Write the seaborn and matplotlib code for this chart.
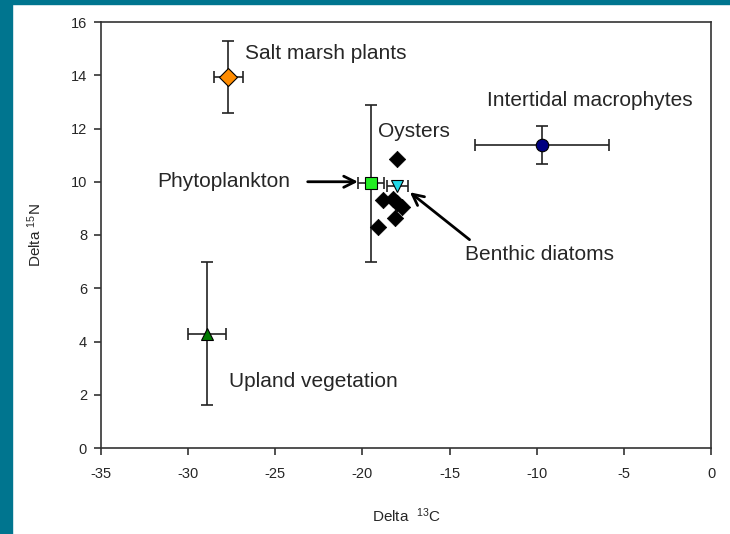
import matplotlib
matplotlib.use('Agg')
import matplotlib.pyplot as plt
from matplotlib.patches import Rectangle
import seaborn as sns
import pandas as pd

# ── Data ─────────────────────────────────────────────────────
oyster_c13 = [-18.04, -18.80, -18.27, -17.75, -18.04, -18.13, -19.09]
oyster_n15 = [10.85, 9.30, 9.35, 9.05, 9.20, 8.65, 8.30]

source_names = ["Salt marsh plants", "Upland vegetation", "Intertidal macrophytes",
                "Phytoplankton", "Benthic diatoms"]
source_c13   = [-27.70, -28.90, -9.70, -19.50, -18.00]
source_n15   = [13.95, 4.30, 11.38, 9.95, 9.85]
source_c13_err = [0.83, 1.10, 3.86, 0.75, 0.60]
source_n15_err = [1.35, 2.68, 0.71, 2.95, 0.0]
source_marker  = ['D', '^', 'o', 's', 'v']
source_color   = ['#FF8C00', '#007A00', '#000080', '#22EE22', '#22D8E8']

x_ticks = [-35, -30, -25, -20, -15, -10, -5, 0]
y_ticks = [0, 2, 4, 6, 8, 10, 12, 14, 16]

# ── Style ────────────────────────────────────────────────────
sns.set_style('white')
plt.rcParams['font.family'] = ['Liberation Sans', 'DejaVu Sans']
plt.rcParams['mathtext.default'] = 'regular'
plt.rcParams['axes.unicode_minus'] = False

fig = plt.figure(figsize=(7.3, 5.34), dpi=100)
fig.patch.set_facecolor('white')
teal = '#00758F'
fig.patches.append(Rectangle((0, 0), 12 / 730, 1, transform=fig.transFigure,
                             color=teal, zorder=0))
fig.patches.append(Rectangle((0, 1 - 4 / 534), 1, 4 / 534, transform=fig.transFigure,
                             color=teal, zorder=0))

ax = fig.add_axes([101 / 730, 1 - 448 / 534, 610 / 730, 426 / 534])

# ── Sources with error bars ──────────────────────────────────
for i, name in enumerate(source_names):
    ax.errorbar(source_c13[i], source_n15[i],
                xerr=source_c13_err[i], yerr=source_n15_err[i] or None,
                fmt='none', ecolor='#222222', elinewidth=1.2,
                capsize=4, capthick=1.2, zorder=2)

# ── Oysters ──────────────────────────────────────────────────
oysters = pd.DataFrame({'c13': oyster_c13, 'n15': oyster_n15})
sns.scatterplot(data=oysters, x='c13', y='n15', marker='D', s=70,
                color='black', edgecolor='black', linewidth=0.5, ax=ax, zorder=3)

src = pd.DataFrame({'name': source_names, 'c13': source_c13, 'n15': source_n15})
for i, row in src.iterrows():
    ax.plot(row['c13'], row['n15'], marker=source_marker[i], markersize=9,
            markerfacecolor=source_color[i], markeredgecolor='black',
            markeredgewidth=0.8, linestyle='none', zorder=4)

# ── Labels & arrows ──────────────────────────────────────────
fs = 15
ax.text(-26.74, 14.81, "Salt marsh plants", fontsize=fs, va='center')
ax.text(-12.85, 13.04, "Intertidal macrophytes", fontsize=fs, va='center')
ax.text(-19.11, 11.88, "Oysters", fontsize=fs, va='center')
ax.text(-31.79, 10.0, "Phytoplankton", fontsize=fs, va='center')
ax.text(-14.12, 7.26, "Benthic diatoms", fontsize=fs, va='center')
ax.text(-27.66, 2.48, "Upland vegetation", fontsize=fs, va='center')

arrow = dict(arrowstyle='->', color='black', lw=2, mutation_scale=20)
ax.annotate("", xy=(-20.1, 10.0), xytext=(-23.3, 10.0), arrowprops=arrow)
ax.annotate("", xy=(-17.4, 9.67), xytext=(-13.73, 7.76), arrowprops=arrow)

# ── Axes ─────────────────────────────────────────────────────
ax.set_xlim(-35, 0)
ax.set_ylim(0, 16)
ax.set_xticks(x_ticks)
ax.set_yticks(y_ticks)
ax.tick_params(axis='both', direction='out', length=5, width=1.2,
               color='#333333', labelsize=10.5, bottom=True, left=True)
ax.tick_params(axis='x', pad=9)
ax.tick_params(axis='y', pad=5)
for side in ['top', 'right', 'bottom', 'left']:
    ax.spines[side].set_visible(True)
    ax.spines[side].set_color('#333333')
    ax.spines[side].set_linewidth(1.2)

ax.set_xlabel("Delta  $^{13}$C", fontsize=11, labelpad=18)
ax.set_ylabel("Delta $^{15}$N", fontsize=11, labelpad=19)

plt.savefig("out.png", dpi=100)
